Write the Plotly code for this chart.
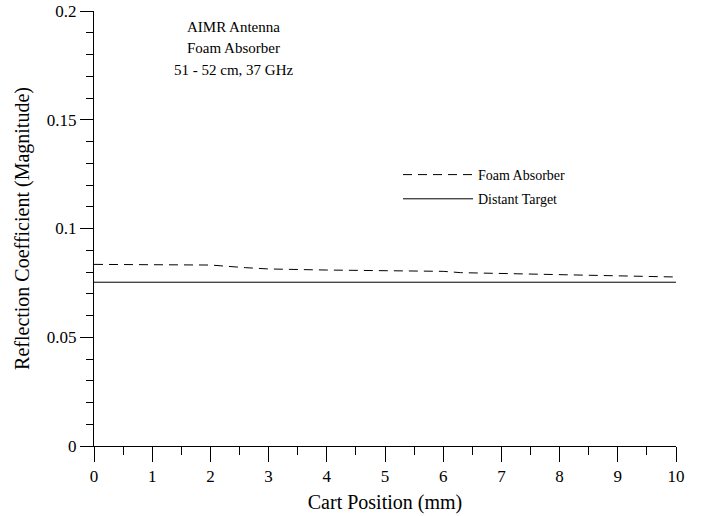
import plotly.graph_objects as go

x_foam = [0, 1, 2, 2.6, 3, 4, 5, 6, 6.3, 7, 8, 9, 10]
y_foam = [0.0835, 0.0835, 0.0832, 0.0820, 0.0814, 0.0809, 0.0805, 0.0803, 0.0797, 0.0793, 0.0788, 0.0782, 0.0777]
x_target = [0, 1, 2, 3, 4, 5, 6, 7, 8, 9, 10]
y_target = [0.0753, 0.0753, 0.0753, 0.0753, 0.0753, 0.0753, 0.0753, 0.0753, 0.0753, 0.0753, 0.0753]
note_lines = ["AIMR Antenna", "Foam Absorber", "51 - 52 cm, 37 GHz"]

FONT = "Liberation Serif"

# plot area spans pixels x 94..676, y 11..446
fig = go.Figure()
fig.add_trace(go.Scatter(x=x_foam, y=y_foam, mode="lines", name="Foam Absorber", legendgroup="a",
                         line=dict(color="black", width=1, dash="9px,6px")))
fig.add_trace(go.Scatter(x=x_target, y=y_target, mode="lines", name="Distant Target", legendgroup="b",
                         line=dict(color="black", width=1)))

annotations = []
for i, t in enumerate(note_lines):
    annotations.append(dict(text=t, x=(233 - 94) / 582, y=(446 - (27 + 21.5 * i)) / 435,
                            xref="paper", yref="paper", xanchor="center", yanchor="middle",
                            showarrow=False, font=dict(family=FONT, size=15)))

fig.update_layout(
    width=711, height=516,
    margin=dict(l=94, r=35, t=11, b=70, autoexpand=False),
    paper_bgcolor="white", plot_bgcolor="white",
    font=dict(family=FONT, size=17, color="black"),
    showlegend=True,
    legend=dict(x=(398 - 94) / 582, y=(446 - 159) / 435, xanchor="left", yanchor="top",
                bgcolor="rgba(0,0,0,0)", font=dict(family=FONT, size=14), itemwidth=70,
                traceorder="grouped", tracegroupgap=3),
    annotations=annotations,
)
fig.update_xaxes(range=[0, 10], tickvals=[0, 1, 2, 3, 4, 5, 6, 7, 8, 9, 10], showgrid=False, zeroline=False,
                 showline=True, linecolor="black", linewidth=1, automargin=False,
                 ticks="outside", ticklen=15, tickcolor="black", tickwidth=1,
                 minor=dict(dtick=0.5, ticks="outside", ticklen=8, tickcolor="black", showgrid=False),
                 title=dict(text="Cart Position (mm)", font=dict(family=FONT, size=20), standoff=9),
                 tickfont=dict(family=FONT, size=17, color="black"))
fig.update_yaxes(range=[0, 0.2], tickvals=[0, 0.05, 0.1, 0.15, 0.2], ticktext=["0", "0.05", "0.1", "0.15", "0.2"],
                 showgrid=False, zeroline=False, automargin=False, ticklabeloverflow="allow",
                 showline=True, linecolor="black", linewidth=1,
                 ticks="outside", ticklen=13, tickcolor="black", tickwidth=1,
                 minor=dict(dtick=0.01, ticks="outside", ticklen=7, tickcolor="black", showgrid=False),
                 title=dict(text="Reflection Coefficient (Magnitude)", font=dict(family=FONT, size=20), standoff=11),
                 tickfont=dict(family=FONT, size=17, color="black"))

fig.write_html("out.html", config={"displayModeBar": False},
               post_script="document.body.style.margin='0';")
